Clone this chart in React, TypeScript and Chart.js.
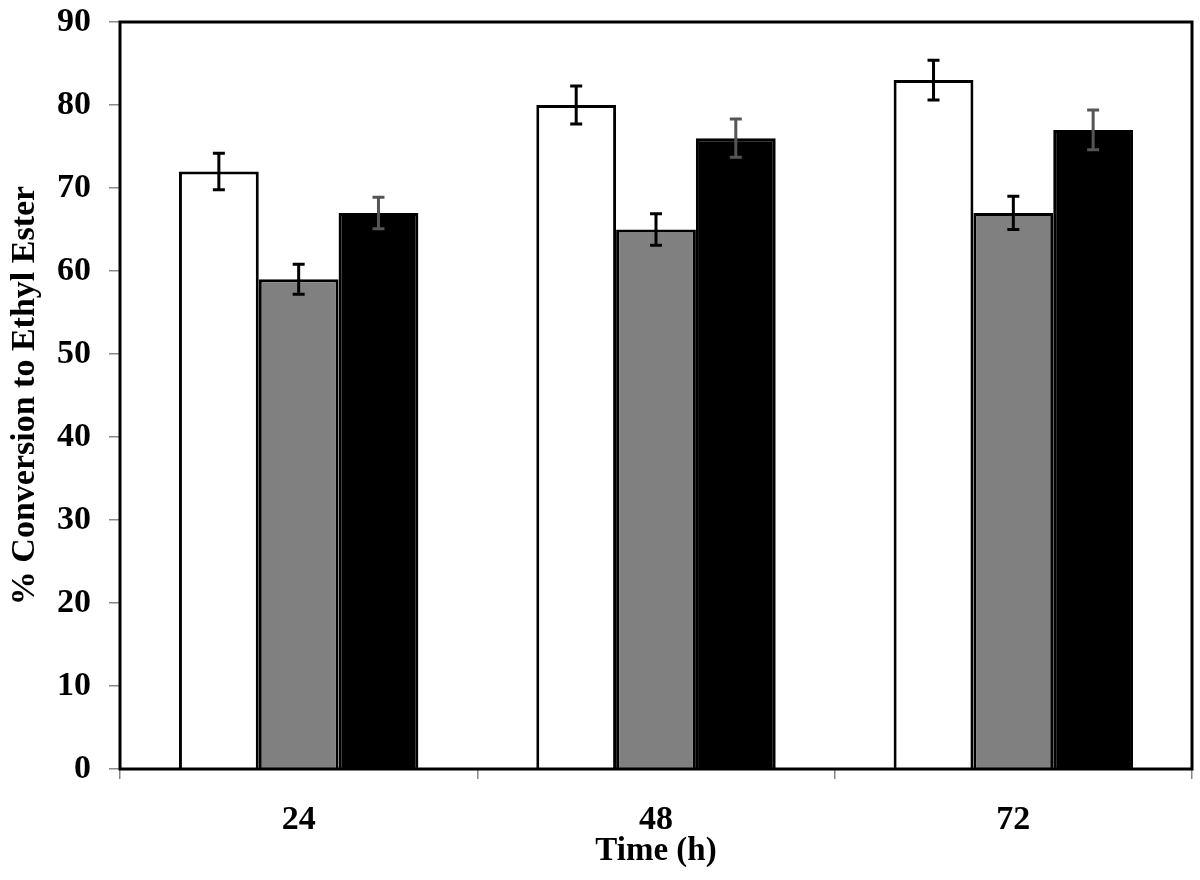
import React, { useEffect, useRef } from "react";
import { Chart, registerables } from "chart.js";

Chart.register(...registerables);

const categories = ["24", "48", "72"];
const seriesA = [72, 80, 83];
const seriesB = [59, 65, 67];
const seriesC = [67, 76, 77];
const errA = [2.2, 2.3, 2.4];
const errB = [1.8, 1.9, 2.0];
const errC = [1.9, 2.3, 2.4];
const yTicks = [0, 10, 20, 30, 40, 50, 60, 70, 80, 90];

const FONT = "'Liberation Serif', 'Times New Roman', serif";

const errorBarPlugin = {
  id: "errorBars",
  afterDatasetsDraw(chart: any) {
    const ctx = chart.ctx;
    const yScale = chart.scales.y;
    chart.data.datasets.forEach((ds: any, i: number) => {
      const meta = chart.getDatasetMeta(i);
      meta.data.forEach((el: any, j: number) => {
        const v = ds.data[j];
        const e = ds.errors[j];
        const yTop = yScale.getPixelForValue(v + e);
        const yBot = yScale.getPixelForValue(v - e);
        const x = el.x;
        ctx.save();
        ctx.strokeStyle = ds.errorColor;
        ctx.lineWidth = 3;
        ctx.beginPath();
        ctx.moveTo(x, yTop);
        ctx.lineTo(x, yBot);
        ctx.moveTo(x - 6, yTop);
        ctx.lineTo(x + 6, yTop);
        ctx.moveTo(x - 6, yBot);
        ctx.lineTo(x + 6, yBot);
        ctx.stroke();
        ctx.restore();
      });
    });
  },
  afterDraw(chart: any) {
    const { ctx, chartArea } = chart;
    ctx.save();
    ctx.strokeStyle = "#000";
    ctx.lineWidth = 3;
    ctx.strokeRect(
      chartArea.left,
      chartArea.top,
      chartArea.right - chartArea.left,
      chartArea.bottom - chartArea.top
    );
    ctx.restore();
  },
};

export default function App() {
  const ref = useRef<HTMLCanvasElement | null>(null);

  useEffect(() => {
    if (!ref.current) return;
    const chart = new Chart(ref.current, {
      type: "bar",
      data: {
        labels: categories,
        datasets: [
          {
            label: "A",
            data: seriesA,
            errors: errA,
            errorColor: "#000",
            backgroundColor: "#ffffff",
            borderColor: "#000",
            borderWidth: 3,
          } as any,
          {
            label: "B",
            data: seriesB,
            errors: errB,
            errorColor: "#000",
            backgroundColor: "#808080",
            borderColor: "#000",
            borderWidth: 3,
          } as any,
          {
            label: "C",
            data: seriesC,
            errors: errC,
            errorColor: "#555",
            backgroundColor: "#000000",
            borderColor: "#000",
            borderWidth: 3,
          } as any,
        ],
      },
      options: {
        responsive: false,
        animation: false,
        devicePixelRatio: 1,
        layout: { padding: { top: 22, right: 8, left: 0, bottom: 0 } },
        plugins: {
          legend: { display: false },
          tooltip: { enabled: false },
        },
        datasets: {
          bar: { categoryPercentage: 0.67, barPercentage: 1.0 },
        },
        scales: {
          x: {
            border: { display: false },
            grid: {
              display: true,
              drawOnChartArea: false,
              drawTicks: true,
              tickLength: 10,
              color: "#888",
              lineWidth: 1.5,
            },
            ticks: {
              color: "#000",
              padding: 21,
              font: { family: FONT, size: 34, weight: "bold" },
            },
            title: {
              display: true,
              text: "Time (h)",
              color: "#000",
              padding: { top: 0, bottom: 9 },
              font: { family: FONT, size: 33, weight: "bold" },
            },
            afterFit: (s: any) => {
              s.height = 111;
              s.paddingLeft = 0;
              s.paddingRight = 0;
            },
          },
          y: {
            min: 0,
            max: 90,
            border: { display: false },
            afterBuildTicks: (s: any) => {
              s.ticks = yTicks.map((v) => ({ value: v }));
            },
            grid: {
              display: true,
              drawOnChartArea: false,
              drawTicks: true,
              tickLength: 11,
              color: "#888",
              lineWidth: 1.5,
            },
            ticks: {
              color: "#000",
              padding: 18,
              font: { family: FONT, size: 34, weight: "bold" },
            },
            title: {
              display: true,
              text: "% Conversion to Ethyl Ester",
              color: "#000",
              padding: { top: 5, bottom: 0 },
              font: { family: FONT, size: 34, weight: "bold" },
            },
            afterFit: (s: any) => {
              s.width = 120;
              s.paddingTop = 0;
              s.paddingBottom = 0;
            },
          },
        },
      },
      plugins: [errorBarPlugin],
    } as any);
    return () => chart.destroy();
  }, []);

  return (
    <div style={{ position: "fixed", left: 0, top: 0, width: 1200, height: 880, background: "#fff" }}>
      <canvas ref={ref} width={1200} height={880} />
    </div>
  );
}
